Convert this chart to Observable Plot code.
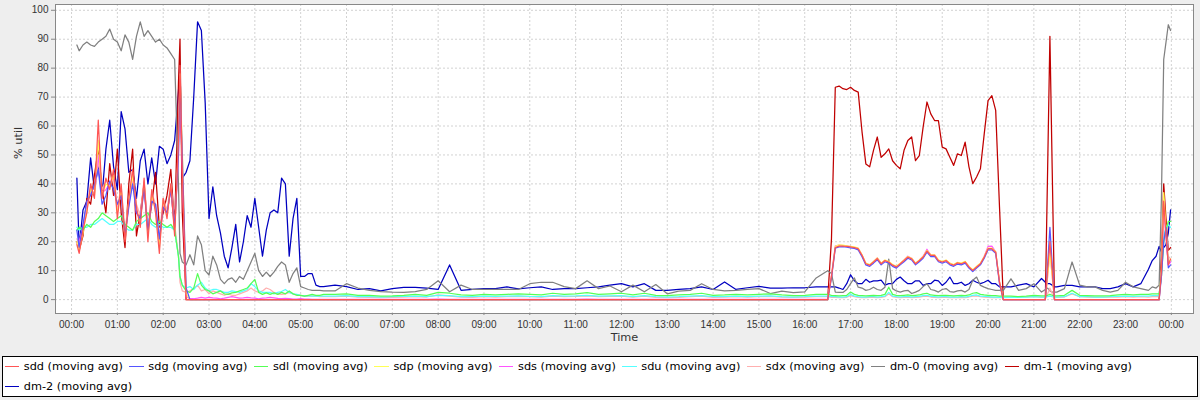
<!DOCTYPE html>
<html><head><meta charset="utf-8">
<script src="https://cdn.jsdelivr.net/npm/d3@7"></script>
<script src="https://cdn.jsdelivr.net/npm/@observablehq/plot@0.6"></script>
<style>
html,body{margin:0;padding:0;background:#eeeeee;width:1200px;height:400px;overflow:hidden;}
#chart{position:absolute;left:0;top:0;}
#legend{position:absolute;left:2px;top:356px;width:1192.4px;height:39px;border:1px solid #000;background:#fff;display:flex;flex-wrap:wrap;align-content:flex-start;font-family:"DejaVu Sans";font-size:11.3px;line-height:19.5px;color:#000;padding-left:1.6px;}
.item{display:flex;align-items:center;margin-right:6.3px;white-space:nowrap;}
.swatch{width:14.5px;height:1px;margin-right:4.7px;}
</style></head>
<body><div id="chart"></div><div id="legend"></div>
<script>
// minutes since 00:00
const timeMinutes = [
  7,10,15,20,25,30,35,40,45,50, 55,60,65,70,75,80,85,90,95,100, 105,110,115,120,125,130,135,140,142,145,
  150,155,160,165,170,175,180,185,190,195, 200,205,210,215,220,225,230,235,240,245, 250,255,260,265,270,275,280,285,290,295,
  300,305,310,315,320,325,330,
  345,360,375,390,405,420,435,450,465,480, 495,510,525,540,555,570,585,600,615,630, 645,660,675,690,705,720,735,750,765,780,
  795,810,825,840,855,870,885,900,915,930, 945,960,975,990,
  995,1000,1005,1010,1015,1020,1025,1030,1035,1040, 1045,1050,1055,1060,1065,1070,1075,1080,1085,1090,
  1095,1100,1105,1110,1115,1120,1125,1130,1135,1140, 1145,1150,1155,1160,1165,1170,1175,1180,1185,1190,
  1195,1200,1205,1210,1215,1220,
  1230,1240,1250,1260,1270,1275,1278,1281,1284,1287, 1290,1300,1310,1320,1330,1340,1350,1360,1370,1380,
  1390,1400,1410,1415,1420,1424,1427,1430,1433,1436, 1439
];

const sdd = [
  19,16,24,30,40,35,62,35,42,38, 45,28,40,20,35,45,32,25,42,20, 38,30,16,35,28,40,22,55,81,45,
  0,0,0,0,0,0,0,0,0,0, 0,0,0,0,0,0,0,0,0,0, 0,0,0,0,0,0,0,0,0,0, 0,0,0,0,0,0,0,
  0,0,0,0,0,0,0,0,0,0, 0,0,0,0,0,0,0,0,0,0, 0,0,0,0,0,0,0,0,0,0, 0,0,0,0,0,0,0,0,0,0, 0,0,0,0,
  8,18,18.5,18.5,18.4,18.2,18,17.6,15.3,12.4, 11.9,13,14.2,12.4,13.5,13,11.9,11.3,12.4,13.5,
  14.7,14.1,12.4,13.5,14.7,16.8,15.3,15.3,13.5,13, 13.5,12.4,11.9,12.7,12.4,13,11.3,10.1,11.3,12.4,
  14.7,17.6,17.6,16.4,6,0,
  0,0,0,0,0,0,10,20,10,0, 0,0,0,0,0,0,0,0,0,0, 0,0,0,0,0,0,10,34,22,12, 14
];
const sdg = [
  24,18,26,34,36,40,45,33,36,41, 38,33,36,22,32,40,30,28,38,24, 34,33,21,32,30,38,25,50,76,50,
  4,0,0,0,0,0,0,0,0,0, 0,0,0,0,0,0,0,0,0,0, 0,0,0,0,0,0,0,0,0,0, 0,0,0,0,0,0,0,
  0,0,0,0,0,0,0,0,0,0, 0,0,0,0,0,0,0,0,0,0, 0,0,0,0,0,0,0,0,0,0, 0,0,0,0,0,0,0,0,0,0, 0,0,0,0,
  7.5,17.8,18.2,18.3,18.1,17.9,17.7,17.2,14.8,12, 11.5,12.6,13.8,12,13.1,12.6,11.5,10.9,12,13.1,
  14.3,13.7,12,13.1,14.3,16.4,14.9,14.9,13.1,12.6, 13.1,12,11.5,12.3,12,12.6,10.9,9.7,10.9,12,
  14.3,17.2,17.2,16,5.5,0,
  0,0,0,0,0,0,12,25,12,0, 0,0,0,0,0,0,0,0,0,0, 0,0,0,0,0,0,8,20,25,11, 12
];
const sdl = [
  24,25,24,26,25,27,28,30,29,28, 27,28,29,26,25,24,27,28,29,30, 27,26,27,26,25,26,24,15,8,5,
  3,2.5,4,9,5,3.5,3,2,2.5,3, 2,1.8,2.3,2.5,3,3.5,4,5.5,7,2.5, 1.8,2.3,1.8,2.3,1.8,2.5,2,3,2,1.5, 1.5,1.2,1.5,1.8,1.5,1.5,1.8,
  1.8,2,1.5,1.5,1.2,1.3,1.5,1.8,1.5,2.5, 2.2,1.6,1.5,1.8,1.6,1.8,2,1.8,1.6,2.2, 1.8,2,2.4,1.8,2,2.2,1.6,2.2,1.5,1.4,
  1.6,1.8,2.2,1.5,1.6,1.8,1.6,1.8,2,1.6, 1.4,1.5,1.8,1.8,
  1.5,1.4,1.3,1.4,1.5,2.6,1.8,1.5,1.4,1.3, 1.4,1.5,1.4,1.5,1.8,4.3,1.8,1.5,1.4,1.5,
  1.6,1.4,1.5,1.6,2,2.2,1.6,1.5,1.4,1.5, 1.5,1.4,1.3,1.4,1.5,1.4,1.6,2.2,2.4,1.8,
  1.6,1.5,1.4,1.4,1.2,1.2,
  1.2,1,1.2,1.5,1.3,1.3,1.5,1.8,1.5,1.3, 1.3,1.5,3.2,1.5,1.4,1.3,1.3,1.4,1.6,1.8, 1.6,1.8,1.8,2,2,2,8,20,24,27, 27
];
const sdp = [
  20,17,23,31,38,36,55,36,40,39, 43,30,38,21,34,43,31,27,40,22, 36,31,18,34,29,39,23,52,78,52,
  2,0,0,0,0,0,0,0,0,0, 0,0,0,0,0,0,0,0,0,0, 0,0,0,0,0,0,0,0,0,0, 0,0,0,0,0,0,0,
  0,0,0,0,0,0,0,0,0,0, 0,0,0,0,0,0,0,0,0,0, 0,0,0,0,0,0,0,0,0,0, 0,0,0,0,0,0,0,0,0,0, 0,0,0,0,
  8.2,18.4,18.9,18.8,18.6,18.4,18.2,17.8,15.5,12.6, 12.1,13.2,14.4,12.6,13.7,13.2,12.1,11.5,12.6,13.7,
  14.9,14.3,12.6,13.7,14.9,17,15.5,15.5,13.7,13.2, 13.7,12.6,12.1,12.9,12.6,13.2,11.5,10.3,11.5,12.6,
  14.9,17.8,17.8,16.6,6.2,0,
  0,0,0,0,0,0,8,16,8,0, 0,0,0,0,0,0,0,0,0,0, 0,0,0,0,0,0,10,37,24,13, 14
];
const sds = [
  19.5,20,25,32,37,37,50,37,38,40, 42,31,37,22,33,42,30,28,39,23, 35,32,19,33,30,38,24,50,74,45,
  1,0.3,0.3,0.5,0.8,0.5,0.8,0.6,0.5,0.3, 0.5,0.8,1,0.8,0.5,0.6,0.8,0.6,0.5,0.3, 0.5,0.6,0.8,0.6,0.4,0.3,0.4,0.3,0.2,0.2, 0.3,0.2,0.2,0.1,0.1,0.1,0.1,
  0.1,0.1,0.1,0.1,0.1,0.1,0.1,0.1,0.1,0.2, 0.1,0.1,0.1,0.1,0.1,0.1,0.1,0.1,0.1,0.1, 0.1,0.1,0.2,0.1,0.1,0.1,0.1,0.1,0.1,0.1,
  0.1,0.1,0.1,0.1,0.1,0.1,0.1,0.1,0.1,0.1, 0.1,0.1,0.1,0.1,
  8.5,18.6,18.8,18.7,18.6,18.3,18.1,17.7,15.4,12.5, 12,13.1,14.4,12.5,13.6,13.1,12,11.4,12.5,13.7,
  15,14.3,12.5,13.6,15,17.4,15.5,15.5,13.6,13.1, 13.6,12.5,12,12.8,12.5,13.1,11.4,10.2,11.4,12.5,
  15,18.4,18.5,16.5,6.1,0,
  0,0,0,0,0,0,8,17,8,0, 0,0,0,0,0,0,0,0,0,0, 0,0,0,0,0,0,9,32,22,12, 13
];
const sdu = [
  25,24,25,25,26,26,27,28,27,26, 26,27,27,25,24,24,26,26,27,28, 26,25,26,25,25,25,24,15,8,5,
  4,4.5,3.5,5,6,4,3,3.5,3.5,3, 2.5,2.5,3,2.8,2.5,3,3.5,5.5,4.5,3, 2.5,2.5,2.5,2,2.5,2.8,3.5,2.5,2,1.8, 1.5,1.3,1.3,1.2,1.2,1.2,1.2,
  1.2,1.4,1,1,0.9,1,1.1,1.2,1,1.5, 1.4,1,1,1.2,1.1,1.2,1.3,1.1,1,1.4, 1.2,1.3,1.5,1.2,1.3,1.4,1,1.4,1,0.9,
  1,1.2,1.4,1,1,1.2,1,1.2,1.3,1, 0.9,1,1.2,1.2,
  1,1,0.9,0.9,1,1.8,1.2,1,0.9,0.9, 1,1,0.9,1,1.2,2.5,1.2,1,0.9,1,
  1.1,0.9,1,1.1,1.4,1.5,1.1,1,0.9,1, 1,0.9,0.9,0.9,1,0.9,1.1,1.5,1.6,1.2,
  1.1,1,0.9,0.9,0.8,0.8,
  0.8,0.8,0.9,1,0.9,0.9,1,1.2,1,0.9, 0.9,1,2.2,1,1,0.9,0.9,1,1.1,1.2, 1.1,1.2,1.2,1.4,1.4,1.4,10,22,25,26, 25
];
const sdx = [
  21,19,26,32,39,36,48,38,41,40, 44,32,39,24,34,44,33,29,41,25, 37,33,22,35,31,40,26,15,6,3,
  2.5,3,4,5,3,3.5,2,3,2.5,2, 1.5,2,1.5,1.5,2,2.5,3,4,3,2.5, 3,4,3.5,2.5,2,1.8,2,2.5,2,1.5, 1.5,1.2,1.2,1.2,1.2,1,1,
  1,1.2,0.9,0.8,0.7,0.8,0.9,1,0.9,1.6, 1.2,0.9,0.8,1,0.9,1,1.1,1,0.9,1.2, 1,1.1,1.3,1,1.1,1.2,0.9,1.2,0.8,0.7,
  0.8,1,1.2,0.8,0.9,1,0.9,1,1.1,0.9, 0.8,0.9,1,1,
  0.8,0.8,0.7,0.7,0.8,1.4,1,0.8,0.7,0.7, 0.8,0.8,0.7,0.8,1,2,1,0.8,0.7,0.8,
  0.9,0.7,0.8,0.9,1.1,1.2,0.9,0.8,0.7,0.8, 0.8,0.7,0.7,0.7,0.8,0.7,0.9,1.2,1.3,1,
  0.9,0.8,0.7,0.7,0.7,0.7,
  0.8,0.8,0.9,1,0.8,0.8,2,4,2,0.8, 0.8,0.9,2,1,0.9,0.8,0.8,0.9,0.9,1, 0.9,1,0.9,1,1,1,8,30,25,15, 14
];
const dm0 = [
  88,86,88,89,88,87.5,89,90,91,93.5, 90,89,86,91.5,89,83,91,96,91,93, 91,89,90,88,87,85,83,40,16,13,
  12,15.5,12,22,19,10,8.5,15,12,7, 5.5,7,7.5,6,8,7,10,13,16,10, 8,9.5,8,9.5,11.5,13,12,6,9,11, 4.5,4,3.5,3.2,3.2,3.2,3,
  3,5.5,4,3.2,2.8,2.6,2.5,2.8,3.5,6.5, 2.7,5,3.5,3.5,3.5,3.5,3.5,5.5,6,6, 4.5,3.8,6.5,3.8,4.7,2.7,5,2.7,5.2,2,
  2.9,3.2,5.5,3.5,3,3.2,3.5,3.8,2.1,2.9, 2.4,2.7,7.5,10,
  9,2.6,2.5,2.5,3.5,5.5,7.5,4.3,4,3.2, 3.5,4.3,3.5,3.2,4.3,14,3.8,3,2.6,3,
  3.2,2.1,2.6,3.2,4.5,5.5,3.5,3.2,2.6,3.5, 3.8,2.8,2.6,3,3.2,2.6,3.5,6.7,7.8,4.9,
  4.3,3.8,3.5,3.2,3.2,3.2,
  7.2,3.2,3.8,5.5,2.6,3.5,4,3,2.6,2.6, 2.6,3.8,13,5,4.4,4.4,3.2,2.6,3.2,6, 4.4,3.8,3.2,4.4,4,5,35,83,89,95, 93
];
const dm1 = [
  20,17,22,35,33,43,52,38,30,47, 36,52,30,18,40,52,22,30,40,24, 33,44,25,30,36,45,25,75,90,30,
  0,0,0,0,0,0,0,0,0,0, 0,0,0,0,0,0,0,0,0,0, 0,0,0,0,0,0,0,0,0,0, 0,0,0,0,0,0,0,
  0,0,0,0,0,0,0,0,0,0, 0,0,0,0,0,0,0,0,0,0, 0,0,0,0,0,0,0,0,0,0, 0,0,0,0,0,0,0,0,0,0, 0,0,0,0,
  21,73.4,73.8,72.9,72.6,73.4,72.3,71.7,58,46.9, 45.9,51.6,56.2,49.2,50.4,52.1,48,46.4,45.2,51.6,
  55,56.2,48,49.8,59.6,68.3,64.2,61.9,61.9,52.7, 52.1,49.2,46.4,50.4,49.8,54.4,45.9,40.1,42.4,45.2,
  57.3,68.8,70.5,65.4,32,0,
  0,0,0,0,0,0,45,91,45,0, 0,0,0,0,0,0,0,0,0,0, 0,0,0,0,0,0,15,40,28,17, 18
];
const dm2 = [
  42,18,31,34,49,38,46,36,52,62, 46,38,65,59,44,45,35,48,52,40, 49,40,53,52,47,50,55,72,81,42,
  44,48,70,96,93,68,28,39,29,23, 15,11,18,26,13,20,29,25,35,25, 15,24,30,31,30,42,40,15,28,35, 8,8,9,9,5,4.5,4.5,
  5,4.5,3.5,3.8,3,3.8,4.2,4.2,4,3.5, 12,3.2,3.5,3.8,3.8,4.4,3.7,4.1,4.4,3.5, 3.8,3.8,4.1,4.4,5,5.5,4.4,5.5,3.2,3.2,
  3.5,3.8,4.4,3.5,6.1,3.5,4.1,4.6,4,4, 4.1,4.1,4.4,4.4,
  4.4,4.4,4,3.5,5.5,8.6,6.5,5.5,5.5,7, 6,6.5,6.5,6.7,5,5.5,5.5,7,7.8,6.5,
  5.5,5.5,6.5,6.5,4.9,5.5,5.5,6.7,6.5,4.9, 6,7.8,5.5,5.5,6,4.9,5.5,6.7,6,5.5,
  6,6.7,5.5,5.5,4.4,4.4,
  4.4,5,5.5,4.4,7.3,6,5.5,5.5,5,4.4, 4.4,4.9,4.9,4.4,4.4,4.4,3.8,3.8,4.4,5.5, 4.4,5.5,10.5,13.5,15,18.4,16.5,18,19,23, 31
];

const seriesNames = ["sdd","sdg","sdl","sdp","sds","sdu","sdx","dm-0","dm-1","dm-2"];
const seriesColors = ["#ff5555","#5555ff","#55ff55","#ffff55","#ff55ff","#55ffff","#ffafaf","#808080","#c00000","#0000c0"];
const seriesValues = [sdd, sdg, sdl, sdp, sds, sdu, sdx, dm0, dm1, dm2];
const legendSuffix = " (moving avg)";
const yTicks = [0,10,20,30,40,50,60,70,80,90,100];
const axisXLabel = "Time";
const axisYLabel = "% util";

seriesValues.forEach((arr, i) => {
  if (arr.length !== timeMinutes.length) throw new Error(seriesNames[i] + " length " + arr.length + " != " + timeMinutes.length);
});

const day = (m) => new Date(Date.UTC(2000, 0, 1, 0, m));
const hourTicks = d3.utcHour.range(day(0), day(1441));

const lineMarks = [];
for (let i = seriesNames.length - 1; i >= 0; i--) {
  const rows = timeMinutes.map((m, j) => ({t: day(m), v: seriesValues[i][j]}));
  lineMarks.push(Plot.line(rows, {x: "t", y: "v", stroke: seriesColors[i], strokeWidth: 1.25}));
}

const chart = Plot.plot({
  width: 1200,
  height: 350,
  marginTop: 4,
  marginBottom: 37,
  marginLeft: 55,
  marginRight: 7,
  x: {type: "utc", domain: [day(-21), day(1469)]},
  y: {domain: [-4.8, 102]},
  style: {background: "transparent", fontFamily: "Liberation Sans", fontSize: "10px", color: "#444"},
  marks: [
    Plot.frame({fill: "#ffffff", stroke: null}),
    Plot.gridX(hourTicks, {stroke: "#d2d2d2", strokeOpacity: 1, strokeWidth: 1, strokeDasharray: "2,2"}),
    Plot.gridY(yTicks, {stroke: "#d2d2d2", strokeOpacity: 1, strokeWidth: 1, strokeDasharray: "2,2"}),
    ...lineMarks,
    Plot.frame({stroke: "#888888", strokeOpacity: 1}),
    Plot.axisX(hourTicks, {tickFormat: d3.utcFormat("%H:%M"), tickSize: 2, tickPadding: 5, label: null, stroke: "#888888", fill: "#333333"}),
    Plot.axisY(yTicks, {tickSize: 4, tickPadding: 3, label: null, stroke: "#888888", fill: "#333333"}),
    Plot.text([axisXLabel], {frameAnchor: "bottom", dy: 27, fontFamily: "DejaVu Sans", fontSize: 11.3, fill: "#333333"}),
    Plot.text([axisYLabel], {frameAnchor: "left", dx: -37, rotate: -90, fontFamily: "DejaVu Sans", fontSize: 11.3, fill: "#333333"})
  ]
});
document.getElementById("chart").appendChild(chart);

const legend = document.getElementById("legend");
seriesNames.forEach((name, i) => {
  const item = document.createElement("div");
  item.className = "item";
  const sw = document.createElement("span");
  sw.className = "swatch";
  sw.style.background = seriesColors[i];
  const tx = document.createElement("span");
  tx.textContent = name + legendSuffix;
  item.appendChild(sw);
  item.appendChild(tx);
  legend.appendChild(item);
});
</script>
</body></html>
